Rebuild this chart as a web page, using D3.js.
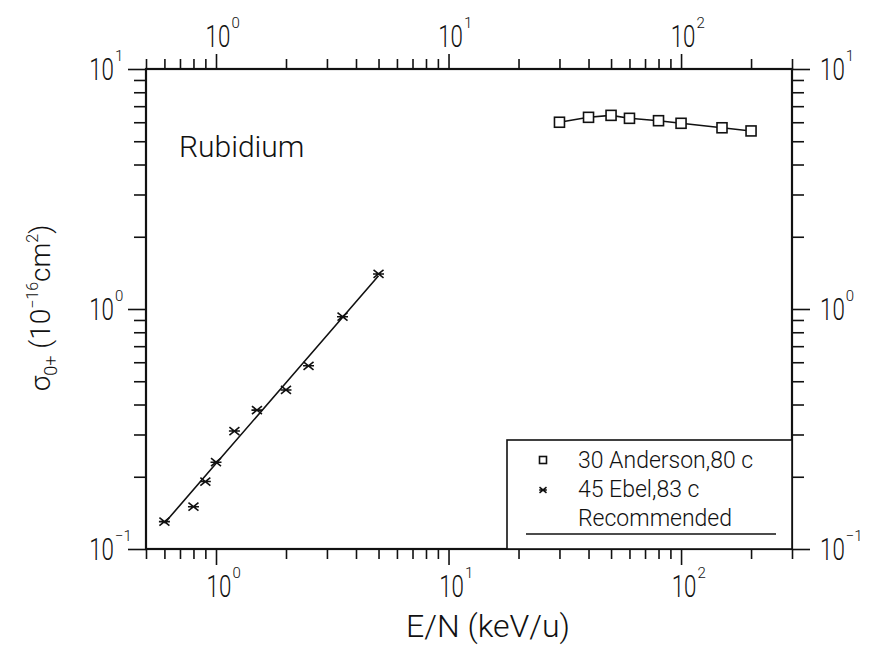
<!DOCTYPE html>
<html><head><meta charset="utf-8">
<script src="https://cdn.jsdelivr.net/npm/d3@7"></script>
<style>
body{margin:0;background:#fff}
text{font-family:Roboto,"DejaVu Sans",sans-serif;font-weight:300;fill:#111}
</style>
</head><body>
<svg id="c" width="873" height="646"></svg>
<script>
// ---- data ----
const xDomain = [0.5, 300];
const yDomain = [0.1, 10];
const xMajor = [1, 10, 100];
const xMajorExp = ["0", "1", "2"];
const yMajor = [0.1, 1, 10];
const yMajorExp = ["-1", "0", "1"];

const andersonE = [30, 40, 50, 60, 80, 100, 150, 200];
const andersonS = [6.0, 6.29, 6.41, 6.23, 6.09, 5.94, 5.69, 5.52];
const ebelE = [0.6, 0.8, 0.9, 1.0, 1.2, 1.5, 2.0, 2.5, 3.5, 5.0];
const ebelS = [0.130, 0.150, 0.191, 0.230, 0.310, 0.379, 0.460, 0.580, 0.929, 1.40];
const recLowE = [0.6, 1.0, 2.0, 5.0];
const recLowS = [0.128, 0.227, 0.493, 1.376];
const recHighE = [30, 40, 50, 60, 80, 100, 150, 200];
const recHighS = [6.0, 6.29, 6.41, 6.23, 6.09, 5.94, 5.69, 5.52];
const legendLabels = ["30 Anderson,80 c", "45 Ebel,83 c", "Recommended"];
const titleText = "Rubidium";

// ---- layout ----
const L = 146, R = 792, T = 69, B = 549;
const svg = d3.select("#c");
const x = d3.scaleLog().domain(xDomain).range([L, R]);
const y = d3.scaleLog().domain(yDomain).range([B, T]);

const isMajor = v => Math.abs(Math.log10(v) - Math.round(Math.log10(v))) < 1e-9;
const xMinor = x.ticks().filter(v => !isMajor(v));
const yMinor = y.ticks().filter(v => !isMajor(v));

function axis(gen, tx, ty, vals, size) {
  const g = svg.append("g").attr("transform", `translate(${tx},${ty})`)
    .call(gen.tickValues(vals).tickSize(size).tickFormat(""));
  g.select(".domain").remove();
  g.selectAll(".tick line").attr("stroke", "#111").attr("stroke-width", 1.6);
}
axis(d3.axisTop(x), 0, T, xMinor, 10);
axis(d3.axisTop(x), 0, T, xMajor, 15);
axis(d3.axisBottom(x), 0, B, xMinor, 10);
axis(d3.axisBottom(x), 0, B, xMajor, 16);
axis(d3.axisLeft(y), L, 0, yMinor, 12);
axis(d3.axisLeft(y), L, 0, yMajor, 18);
axis(d3.axisRight(y), R, 0, yMinor, 12);
axis(d3.axisRight(y), R, 0, yMajor, 18);

svg.append("rect").attr("x", L).attr("y", T).attr("width", R - L).attr("height", B - T)
  .attr("fill", "none").attr("stroke", "#111").attr("stroke-width", 2.2);

// ---- tick labels "10^n" ----
const MAIN = 31, SUP = 15, SX = 0.72;
function powLabel(cx, base, exp, anchor) {
  const g = svg.append("g");
  const t = g.append("text").attr("font-size", MAIN).text("10");
  const w = t.node().getComputedTextLength() * SX;
  let x0 = anchor === "middle" ? cx - w / 2 : anchor === "end" ? cx - w : cx;
  t.attr("transform", `translate(${x0},${base}) scale(${SX},1)`);
  g.append("text").attr("font-size", SUP).attr("x", x0 + w + 1).attr("y", base - 19).text(exp.replace("-", "\u2212"));
}
xMajor.forEach((v, i) => { powLabel(x(v) + 2, 47, xMajorExp[i], "middle"); });
xMajor.forEach((v, i) => { powLabel(x(v) + 3, 597, xMajorExp[i], "middle"); });
yMajor.forEach((v, i) => { powLabel(114, y(v) + 11, yMajorExp[i], "end"); });
yMajor.forEach((v, i) => { powLabel(820, y(v) + 11, yMajorExp[i], "start"); });

// ---- axis titles ----
svg.append("text").attr("x", 488).attr("y", 637).attr("text-anchor", "middle")
  .attr("font-size", 32).text("E/N (keV/u)");

const yl = svg.append("text").attr("transform", "translate(50,308) rotate(-90)")
  .attr("text-anchor", "middle").attr("font-size", 28);
yl.append("tspan").text("\u03c3");
yl.append("tspan").attr("font-size", 18).attr("dy", 7).text("0+");
yl.append("tspan").attr("dy", -7).text(" (10");
yl.append("tspan").attr("font-size", 16).attr("dy", -12).text("\u221216");
yl.append("tspan").attr("dy", 12).text("cm");
yl.append("tspan").attr("font-size", 16).attr("dy", -12).text("2");
yl.append("tspan").attr("dy", 12).text(")");

svg.append("text").attr("x", 179).attr("y", 157).attr("font-size", 30).text(titleText);

// ---- lines ----
const line = d3.line().x(d => x(d[0])).y(d => y(d[1]));
const recLow = recLowE.map((e, i) => [e, recLowS[i]]);
const recHigh = recHighE.map((e, i) => [e, recHighS[i]]);
[recLow, recHigh].forEach(d => svg.append("path").attr("d", line(d))
  .attr("fill", "none").attr("stroke", "#111").attr("stroke-width", 1.6));

// ---- markers ----
function star(g, cx, cy, s) {
  g.append("path").attr("d",
    `M${cx - s},${cy - s * 0.8}L${cx + s},${cy + s * 0.8}M${cx - s},${cy + s * 0.8}L${cx + s},${cy - s * 0.8}M${cx - s * 1.1},${cy}L${cx + s * 1.1},${cy}`)
    .attr("stroke", "#111").attr("stroke-width", 1.6).attr("fill", "none");
}
function square(g, cx, cy, s) {
  g.append("rect").attr("x", cx - s).attr("y", cy - s).attr("width", 2 * s).attr("height", 2 * s)
    .attr("fill", "#fff").attr("stroke", "#111").attr("stroke-width", 1.6);
}
const mg = svg.append("g");
andersonE.forEach((e, i) => square(mg, x(e), y(andersonS[i]), 5));
ebelE.forEach((e, i) => star(mg, x(e), y(ebelS[i]), 5));

// ---- legend ----
const lg = svg.append("g");
lg.append("rect").attr("x", 507).attr("y", 440).attr("width", R - 507).attr("height", B - 440)
  .attr("fill", "#fff").attr("stroke", "#111").attr("stroke-width", 1.6);
square(lg, 543, 460, 3.5);
star(lg, 543, 490, 3.5);
legendLabels.forEach((t, i) => lg.append("text").attr("x", 578).attr("y", 468 + i * 29)
  .attr("font-size", 23).text(t));
lg.append("line").attr("x1", 526).attr("x2", 776).attr("y1", 534).attr("y2", 534)
  .attr("stroke", "#111").attr("stroke-width", 1.6);
</script>
</body></html>
